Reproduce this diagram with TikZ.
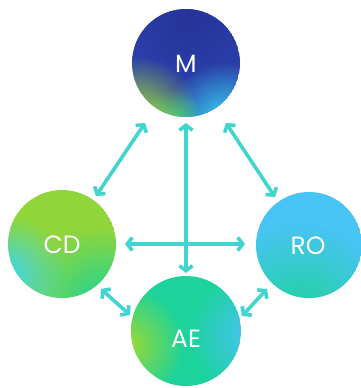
\documentclass[tikz,border=0pt]{standalone}
\usepackage{fontspec}
\setmainfont{Poppins}
\usetikzlibrary{arrows.meta,fadings}
\tikzfading[name=softblob, inner color=transparent!0, outer color=transparent!100]
\definecolor{arrc}{RGB}{66,212,208}
\definecolor{mblue}{RGB}{46,66,178}
\definecolor{mdark}{RGB}{38,52,152}
\definecolor{ygreen}{RGB}{160,218,48}
\definecolor{cyanc}{RGB}{56,214,240}
\definecolor{cdgreen}{RGB}{144,214,58}
\definecolor{teal}{RGB}{30,212,150}
\definecolor{lblue}{RGB}{72,196,245}
\definecolor{aegreen}{RGB}{28,211,155}
\tikzset{
  bubble/.style={circle, inner sep=0pt, text=white, font=\fontsize{25}{25}\selectfont},
  arr/.style={draw=arrc, line width=3.6pt, {Straight Barb[length=5pt,width=13pt]}-{Straight Barb[length=5pt,width=13pt]}},
  blob/.style={path fading=softblob}
}
\begin{document}
\begin{tikzpicture}[x=1pt,y=-1pt]
\useasboundingbox (0,0) rectangle (360,388);
% M
\begin{scope}
\clip (186,63) circle (54);
\fill[mblue] (186,63) circle (54);
\fill[mdark,blob] (190,20) circle (90);
\fill[cyanc,blob] (224,120) circle (58);
\fill[teal,blob] (172,126) circle (36);
\fill[ygreen,blob] (138,118) circle (62);
\end{scope}
% CD
\begin{scope}
\clip (62,244) circle (54);
\fill[cdgreen] (62,244) circle (54);
\fill[teal,blob] (100,302) circle (75);
\fill[cyanc,blob] (8,276) circle (60);
\end{scope}
% RO
\begin{scope}
\clip (309,245) circle (53);
\fill[lblue] (309,245) circle (53);
\fill[teal,blob] (298,318) circle (95);
\end{scope}
% AE
\begin{scope}
\clip (186,331) circle (55);
\fill[aegreen] (186,331) circle (55);
\fill[ygreen,blob] (126,345) circle (58);
\fill[lblue,blob] (250,335) circle (62);
\end{scope}
\node[bubble] (M) at (186,64) {M};
\node[bubble] (CD) at (62,245) {CD};
\node[bubble] (RO) at (308,246) {RO};
\node[bubble] (AE) at (186,339) {AE};
% arrow ends
\coordinate (mcd1) at (145,123);
\coordinate (mcd2) at (96,196);
\coordinate (mro1) at (226,123);
\coordinate (mro2) at (275,197);
\coordinate (h1) at (125,244);
\coordinate (h2) at (245,244);
\coordinate (v1) at (186,123);
\coordinate (v2) at (186,273);
\coordinate (ca1) at (101,289);
\coordinate (ca2) at (130,315);
\coordinate (ra1) at (267,289);
\coordinate (ra2) at (242,316);
\draw[arr] (mcd1) -- (mcd2);
\draw[arr] (mro1) -- (mro2);
\draw[arr] (h1) -- (h2);
\draw[arr] (v1) -- (v2);
\draw[arr] (ca1) -- (ca2);
\draw[arr] (ra1) -- (ra2);
\end{tikzpicture}
\end{document}
